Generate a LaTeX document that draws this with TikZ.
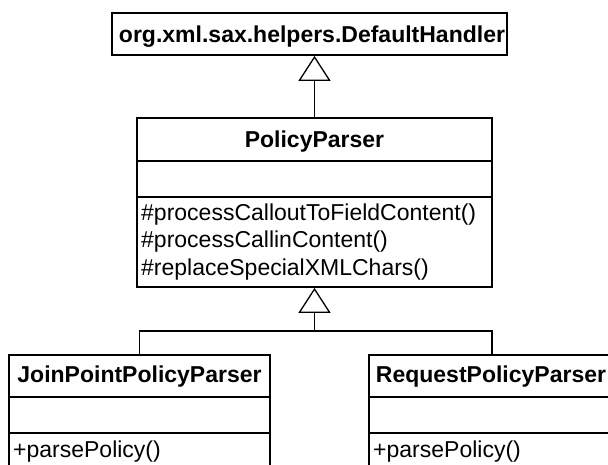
\documentclass[tikz,border=0pt]{standalone}
\usepackage{fontspec}
\setmainfont{Liberation Sans}
\usetikzlibrary{arrows.meta}
\begin{document}
\begin{tikzpicture}[x=1pt,y=-1pt,
  box/.style={draw, line width=1.7pt, inner sep=0pt, fill=white},
  divider/.style={line width=1.7pt},
  title/.style={font=\fontsize{23}{27.6}\selectfont\bfseries, inner sep=0pt, anchor=base},
  op/.style={font=\fontsize{23}{27.6}\selectfont, inner sep=0pt, anchor=base west},
  link/.style={line width=1.3pt},
  inherit/.style={link, -{Triangle[open, length=25pt, width=32pt, line width=1.3pt]}}
]
\useasboundingbox (0,0) rectangle (608,464);
\clip (0,0) rectangle (608,464);

% class boxes
\node[box, minimum width=395pt, minimum height=42pt]  (dh) at (309.5,34) {};
\node[box, minimum width=355pt, minimum height=169pt] (pp) at (314.5,202.5) {};
\node[box, minimum width=261pt, minimum height=125pt] (jp) at (139.5,417.5) {};
\node[box, minimum width=246pt, minimum height=125pt] (rp) at (492,417.5) {};

% compartment separators
\draw[divider] (pp.west |- 0,161) -- (pp.east |- 0,161);
\draw[divider] (pp.west |- 0,197) -- (pp.east |- 0,197);
\draw[divider] (jp.west |- 0,397) -- (jp.east |- 0,397);
\draw[divider] (jp.west |- 0,433) -- (jp.east |- 0,433);
\draw[divider] (rp.west |- 0,397) -- (rp.east |- 0,397);
\draw[divider] (rp.west |- 0,433) -- (rp.east |- 0,433);

% class names and operations
\node[title] (dht) at (312,42) {org.xml.sax.helpers.DefaultHandler};
\node[title] (ppt) at (314.5,147) {PolicyParser};
\node[op] (m1) at (141,220) {\#processCalloutToFieldContent()};
\node[op] (m2) at (141,247.5) {\#processCallinContent()};
\node[op] (m3) at (141,275) {\#replaceSpecialXMLChars()};
\node[title] (jpt) at (139.5,382) {JoinPointPolicyParser};
\node[op] (jpm) at (13,457) {+parsePolicy()};
\node[title] (rpt) at (491,382) {RequestPolicyParser};
\node[op] (rpm) at (373,457) {+parsePolicy()};

% generalisation connectors
\draw[inherit] (pp.north) -- (pp.north |- dh.south);
\coordinate (fork) at (314.5,331);
\draw[inherit] (fork) -- (pp.south);
\draw[link] (jp.north) |- (fork) -| (rp.north);
\end{tikzpicture}
\end{document}
